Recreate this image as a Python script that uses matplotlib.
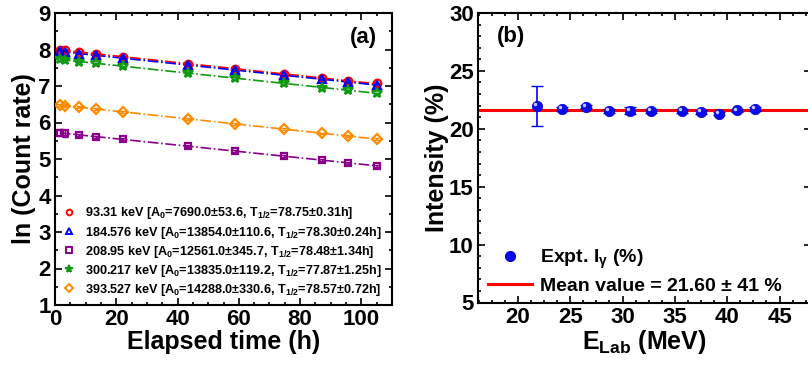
import matplotlib
matplotlib.use("Agg")
import matplotlib.pyplot as plt
from matplotlib.ticker import MultipleLocator, AutoMinorLocator
import numpy as np

plt.rcParams['font.family'] = ['Liberation Sans', 'DejaVu Sans']
plt.rcParams['font.weight'] = 'bold'
plt.rcParams['mathtext.fontset'] = 'custom'
plt.rcParams['mathtext.rm'] = 'Liberation Sans:bold'
plt.rcParams['mathtext.it'] = 'Liberation Sans:bold'
plt.rcParams['mathtext.bf'] = 'Liberation Sans:bold'
plt.rcParams['mathtext.default'] = 'rm'

# ---- panel (a) data ----
time_h = [1.6, 3.3, 7.8, 13.4, 22.1, 43.3, 58.6, 74.6, 87.3, 95.8, 105.2]
ln_93 = [7.99, 7.98, 7.93, 7.88, 7.80, 7.61, 7.47, 7.33, 7.21, 7.14, 7.07]
ln_184 = [7.95, 7.93, 7.89, 7.84, 7.76, 7.57, 7.44, 7.29, 7.18, 7.11, 7.03]
ln_208 = [5.72, 5.70, 5.66, 5.61, 5.54, 5.35, 5.22, 5.08, 4.97, 4.89, 4.81]
ln_300 = [7.73, 7.71, 7.67, 7.62, 7.54, 7.36, 7.22, 7.08, 6.95, 6.88, 6.80]
ln_393 = [6.48, 6.46, 6.42, 6.37, 6.29, 6.10, 5.96, 5.82, 5.70, 5.63, 5.55]
err_208 = [0.09, 0.09, 0.03, 0.03, 0.03, 0.03, 0.03, 0.03, 0.03, 0.03, 0.03]
err_small = [0.04, 0.04, 0.02, 0.02, 0.02, 0.02, 0.02, 0.02, 0.02, 0.02, 0.02]
labels_a = [
    r"93.31 keV [A$_0$=7690.0±53.6, T$_{1/2}$=78.75±0.31h]",
    r"184.576 keV [A$_0$=13854.0±110.6, T$_{1/2}$=78.30±0.24h]",
    r"208.95 keV [A$_0$=12561.0±345.7, T$_{1/2}$=78.48±1.34h]",
    r"300.217 keV [A$_0$=13835.0±119.2, T$_{1/2}$=77.87±1.25h]",
    r"393.527 keV [A$_0$=14288.0±330.6, T$_{1/2}$=78.57±0.72h]",
]
series_a = [ln_93, ln_184, ln_208, ln_300, ln_393]
errs_a = [err_small, err_small, err_208, err_small, err_small]
colors_a = ['#ff0000', '#0000ff', '#8b008b', '#119911', '#ff8c00']
markers_a = ['o', '^', 's', '*', 'D']
msizes = [5.5, 5.5, 5, 7.5, 5]

# ---- panel (b) data ----
e_lab = [21.8, 24.2, 26.5, 28.7, 30.7, 32.7, 35.7, 37.5, 39.2, 40.9, 42.7]
intensity = [21.98, 21.72, 21.92, 21.52, 21.57, 21.55, 21.52, 21.44, 21.32, 21.60, 21.69]
int_err = [1.72, 0.15, 0.15, 0.15, 0.3, 0.2, 0.15, 0.15, 0.15, 0.15, 0.15]
mean_value = 21.6

fig = plt.figure(figsize=(8.08, 3.65), dpi=100)
ax1 = fig.add_axes([55/808, 1-305/365, (392-55)/808, (305-13)/365])
ax2 = fig.add_axes([478/808, 1-302.5/365, (811-478)/808, (302.5-13)/365])

handles = []
for y, e, c, m, ms, lab in zip(series_a, errs_a, colors_a, markers_a, msizes, labels_a):
    t = np.array(time_h)
    yy = np.array(y)
    p = np.polyfit(t, yy, 1)
    tf = np.array([t[0], t[-1]])
    ax1.plot(tf, np.polyval(p, tf), ls='-.', color=c, lw=1.2, zorder=2)
    ax1.errorbar(t, yy, yerr=e, fmt='none', ecolor=c, elinewidth=1, capsize=2.5, zorder=3)
    ax1.plot(t, yy, ls='none', marker=m, ms=ms, mfc='none', mec=c, mew=1.6, zorder=4)
    hl, = ax1.plot([], [], ls='none', marker=m, ms=ms*0.75, mfc='none', mec=c, mew=1.4, label=lab)
    handles.append(hl)

ax1.set_xlim(0, 110)
ax1.set_ylim(1, 9)
ax1.xaxis.set_major_locator(MultipleLocator(20))
ax1.xaxis.set_minor_locator(AutoMinorLocator(4))
ax1.yaxis.set_major_locator(MultipleLocator(1))
ax1.yaxis.set_minor_locator(AutoMinorLocator(2))
ax1.set_xlabel("Elapsed time (h)", fontsize=18, fontweight='bold', labelpad=0)
ax1.set_ylabel("ln (Count rate)", fontsize=18, fontweight='bold', labelpad=2)
ax1.text(0.955, 0.915, "(a)", transform=ax1.transAxes, fontsize=16, fontweight='bold', ha='right', va='center')
ax1.legend(handles=handles, loc='lower left', bbox_to_anchor=(0.0, -0.005), frameon=False,
           handlelength=0.8, handletextpad=0.9, labelspacing=0.24,
           borderaxespad=0.3, prop={'weight': 'bold', 'size': 9.1})

# panel b
hm = ax2.axhline(mean_value, color='#ff0000', lw=2.2, zorder=2)
ax2.errorbar(e_lab, intensity, yerr=int_err, fmt='none', ecolor='#0000ff', elinewidth=1.2, capsize=4, zorder=3)
ax2.plot(e_lab, intensity, ls='none', marker='o', ms=7.5, mfc='#0a0aee', mec='#0000cc', mew=0.5, zorder=4)
ax2.plot(np.array(e_lab) - 0.2, np.array(intensity) + 0.15, ls='none', marker='o', ms=2.5,
         mfc='#c8c8ff', mec='none', zorder=5)
hb, = ax2.plot([], [], ls='none', marker='o', ms=7, mfc='#0a0aee', mec='#0000cc')
ax2.legend(handles=[hb, hm], labels=[r"Expt. I$_\gamma$ (%)", "Mean value = 21.60 ± 41 %"],
           loc='lower left', bbox_to_anchor=(-0.012, -0.02), frameon=False,
           handlelength=2.3, handletextpad=0.4, labelspacing=0.3, borderaxespad=0.3,
           prop={'weight': 'bold', 'size': 14})
ax2.set_xlim(16.2, 48)
ax2.set_ylim(5, 30)
ax2.xaxis.set_major_locator(MultipleLocator(5))
ax2.xaxis.set_minor_locator(AutoMinorLocator(4))
ax2.yaxis.set_major_locator(MultipleLocator(5))
ax2.yaxis.set_minor_locator(AutoMinorLocator(5))
ax2.set_xlabel(r"E$_{\mathrm{Lab}}$ (MeV)", fontsize=18, fontweight='bold', labelpad=0)
ax2.set_ylabel("Intensity (%)", fontsize=18, fontweight='bold', labelpad=0)
ax2.text(0.1, 0.92, "(b)", transform=ax2.transAxes, fontsize=16, fontweight='bold', ha='center', va='center')

for ax in (ax1, ax2):
    for s in ax.spines.values():
        s.set_linewidth(1.5)
    ax.tick_params(which='both', direction='in', top=True, right=True, width=1.2)
    ax.tick_params(which='major', length=5, labelsize=16, pad=3)
    ax.tick_params(which='minor', length=2.5)
    for lab in ax.get_xticklabels() + ax.get_yticklabels():
        lab.set_fontweight('bold')

fig.savefig("out.png", dpi=100)
